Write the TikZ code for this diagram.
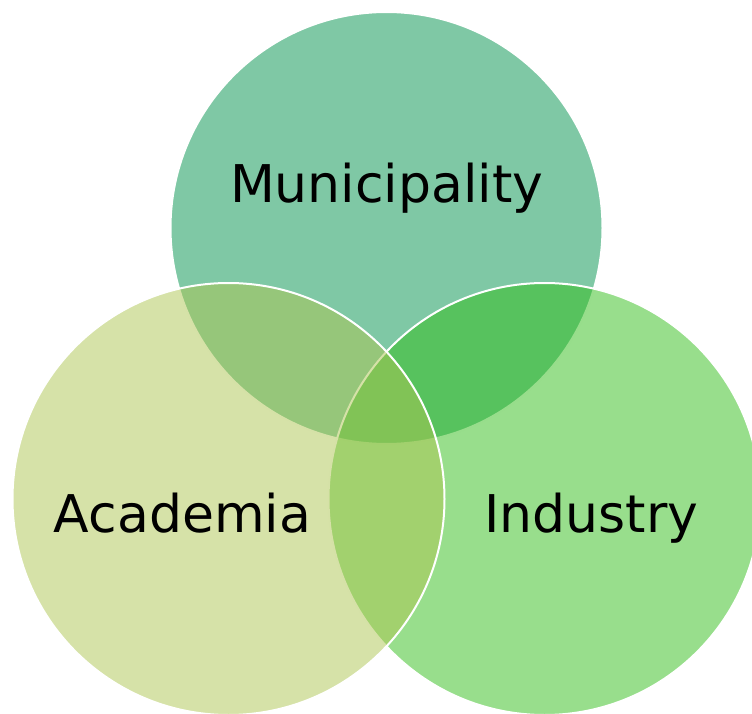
\documentclass[tikz,border=0pt]{standalone}
\usepackage{fontspec}
\setmainfont{DejaVu Sans}
\definecolor{muniC}{RGB}{0,145,75}
\definecolor{acadC}{RGB}{173,197,81}
\definecolor{indC}{RGB}{49,189,25}
\tikzset{
  venn/.style={circle, draw=white, line width=2pt, fill opacity=0.5, text opacity=1,
    minimum size=432pt, inner sep=0pt, outer sep=0pt},
  lbl/.style={anchor=base, inner sep=0pt, font=\fontsize{52}{62}\selectfont, text=black}
}
\begin{document}
\begin{tikzpicture}[x=1pt,y=-1pt]
\useasboundingbox (0,0) rectangle (752,714);
\node[venn, fill=muniC] (top) at (386.5,228) {};
\node[venn, fill=indC] (right) at (544.5,499) {};
\node[venn, fill=acadC] (left) at (228.5,499) {};
\node[lbl] (tmuni) at (386.7,203) {Municipality};
\node[lbl] (tacad) at (182.5,532.7) {Academia};
\node[lbl] (tind) at (591.5,532.7) {Industry};
\end{tikzpicture}
\end{document}
